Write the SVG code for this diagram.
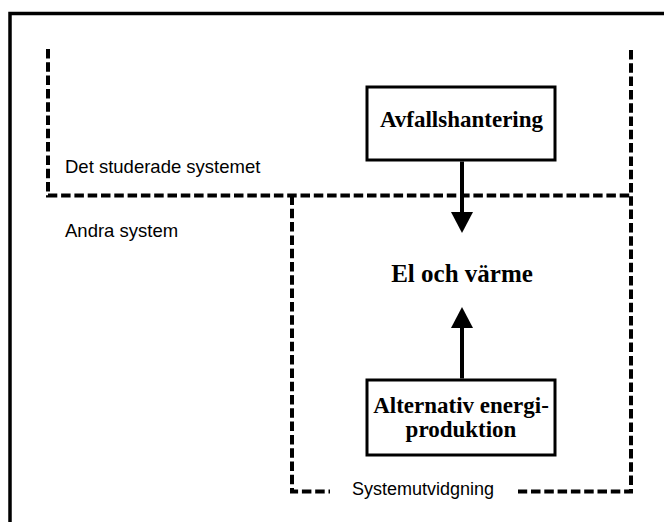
<svg xmlns="http://www.w3.org/2000/svg" width="664" height="522" viewBox="0 0 664 522">
  <defs>
    <marker id="arrow" markerUnits="userSpaceOnUse" markerWidth="21" markerHeight="22" viewBox="0 0 21 22" refX="0" refY="11" orient="auto">
      <path d="M0,0 L21,11 L0,22 Z" fill="#000"/>
    </marker>
    <style>
      .frame { fill: none; stroke: #000; stroke-width: 3.5; }
      .bound { fill: none; stroke: #000; stroke-width: 4; stroke-dasharray: 9.5 3.8; }
      .box { fill: #fff; stroke: #000; stroke-width: 3; }
      .flow { fill: none; stroke: #000; stroke-width: 4; marker-end: url(#arrow); }
      .label { font-family: "Liberation Sans", Arial, sans-serif; font-size: 18.5px; fill: #000; }
      .title { font-family: "Liberation Serif", "Times New Roman", serif; font-weight: bold; font-size: 23px; fill: #000; text-anchor: middle; }
    </style>
  </defs>
  <rect width="664" height="522" fill="#fff"/>

  <!-- outer frame (right and bottom edges fall outside the page) -->
  <rect class="frame" x="10" y="13.5" width="700" height="560"/>

  <!-- system boundaries -->
  <g id="boundaries">
    <path class="bound" d="M48,49 V195.5 H631"/>
    <path class="bound" d="M631,50 V491.5 H518"/>
    <path class="bound" d="M292,195.5 V491.5 H330"/>
  </g>

  <g id="labels">
    <text class="label" x="65" y="173">Det studerade systemet</text>
    <text class="label" x="65" y="237">Andra system</text>
    <text class="label" x="352" y="495" style="font-size:18px">Systemutvidgning</text>
  </g>

  <g id="connectors">
    <path class="flow" d="M462,161.5 V212"/>
    <path class="flow" d="M462,378.5 V328"/>
  </g>

  <g id="avfallshantering">
    <rect class="box" x="367" y="87" width="188" height="73"/>
    <text class="title" x="461.5" y="127">Avfallshantering</text>
  </g>

  <g id="el-och-varme">
    <text class="title" x="462" y="282" style="font-size:25px">El och värme</text>
  </g>

  <g id="alternativ-energiproduktion">
    <rect class="box" x="367" y="380" width="188" height="75"/>
    <text class="title" x="461" y="413">Alternativ energi-</text>
    <text class="title" x="461" y="437">produktion</text>
  </g>
</svg>
